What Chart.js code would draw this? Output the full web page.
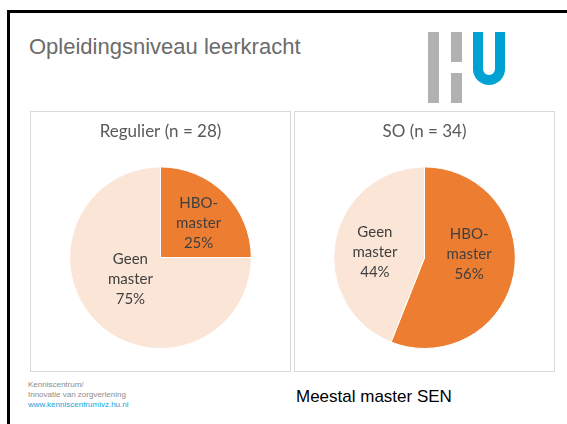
<!DOCTYPE html>
<html>
<head>
<meta charset="utf-8">
<script src="https://cdn.jsdelivr.net/npm/chart.js@4"></script>
<style>
  body { margin: 0; width: 567px; height: 424px; overflow: hidden; background: #fff; position: relative; font-family: "Liberation Sans", Arial, sans-serif; }
  .frame { position: absolute; left: 7px; top: 10px; width: 620px; height: 480px; border: 3px solid #000; }
  .title { position: absolute; left: 29px; top: 34px; font-size: 22px; color: #6b6b6b; }
  .bar { position: absolute; background: #b1b1b1; width: 11px; }
  .u { position: absolute; left: 473px; top: 32px; width: 12px; height: 43px; border: 10px solid #00a2d4; border-top: none; border-radius: 0 0 16px 16px; }
  .panel { position: absolute; top: 111px; width: 261px; height: 261px; border: 1px solid #d9d9d9; box-sizing: border-box; }
  .foot { position: absolute; left: 28px; top: 380px; font-size: 8px; line-height: 10px; color: #8c8c8c; }
  .foot span { color: #1ba1d8; }
  .note { position: absolute; left: 296px; top: 387px; font-size: 17px; color: #000; }
</style>
</head>
<body>
<div class="frame"></div>
<div class="title">Opleidingsniveau leerkracht</div>
<div class="bar" style="left:428px; top:32px; height:71px;"></div>
<div class="bar" style="left:451px; top:32px; height:30px;"></div>
<div class="bar" style="left:451px; top:73px; height:30px;"></div>
<div class="u"></div>

<div class="panel" style="left:30px;"><canvas id="regulier"></canvas></div>
<div class="panel" style="left:294px;"><canvas id="so"></canvas></div>

<div class="foot">Kenniscentrum/<br>Innovatie van zorgverlening<br><span>www.kenniscentrumivz.hu.nl</span></div>
<div class="note">Meestal master SEN</div>

<script>
let categories = ['HBO-master', 'Geen master'];
let regulier_values = [25, 75];
let so_values = [56, 44];
let colors = ['#ed7d31', '#fbe5d6'];

// labels inside the slices, like the office chart ("best fit" nudges per slice)
const sliceLabels = {
    id: 'sliceLabels',
    afterDatasetsDraw(chart, args, opts) {
        let ctx = chart.ctx;
        let meta = chart.getDatasetMeta(0);
        let ds = chart.data.datasets[0];
        let shift = opts.shift || [];
        ctx.save();
        ctx.font = '15px Lato, "Open Sans", sans-serif';
        ctx.fillStyle = '#404040';
        ctx.textAlign = 'center';
        ctx.textBaseline = 'middle';
        meta.data.forEach((arc, i) => {
            let p = arc.tooltipPosition();
            let d = shift[i] || [0, 0];
            let name = chart.data.labels[i];
            let lines = name.indexOf('-') >= 0 ? [name.split('-')[0] + '-', name.split('-')[1]] : name.split(' ');
            lines.push(ds.data[i] + '%');
            lines.forEach((t, j) => {
                ctx.fillText(t, p.x + d[0], p.y + d[1] + (j - 1) * 20);
            });
        });
        ctx.restore();
    }
};

function makePie(id, title, values, shift) {
    return new Chart(document.getElementById(id).getContext('2d'), {
        type: 'pie',
        data: {
            labels: categories,
            datasets: [{
                data: values,
                backgroundColor: colors,
                borderColor: '#fff',
                borderWidth: 1
            }]
        },
        options: {
            responsive: false,
            animation: false,
            layout: { padding: { top: 0, bottom: 22 } },
            plugins: {
                legend: { display: false },
                tooltip: { enabled: false },
                sliceLabels: { shift: shift },
                title: {
                    display: true,
                    text: title,
                    color: '#595959',
                    font: { family: 'Lato, "Open Sans", sans-serif', size: 17, weight: 'normal' },
                    padding: { top: 9, bottom: 25 }
                }
            }
        },
        plugins: [sliceLabels]
    });
}

for (const c of ['regulier', 'so']) {
    let cv = document.getElementById(c);
    cv.width = 259; cv.height = 259;
}
makePie('regulier', 'Regulier (n = 28)', regulier_values, [[6, -2], [2, -11]]);
makePie('so', 'SO (n = 34)', so_values, [[0, -12], [-5, 3]]);
</script>
</body>
</html>
